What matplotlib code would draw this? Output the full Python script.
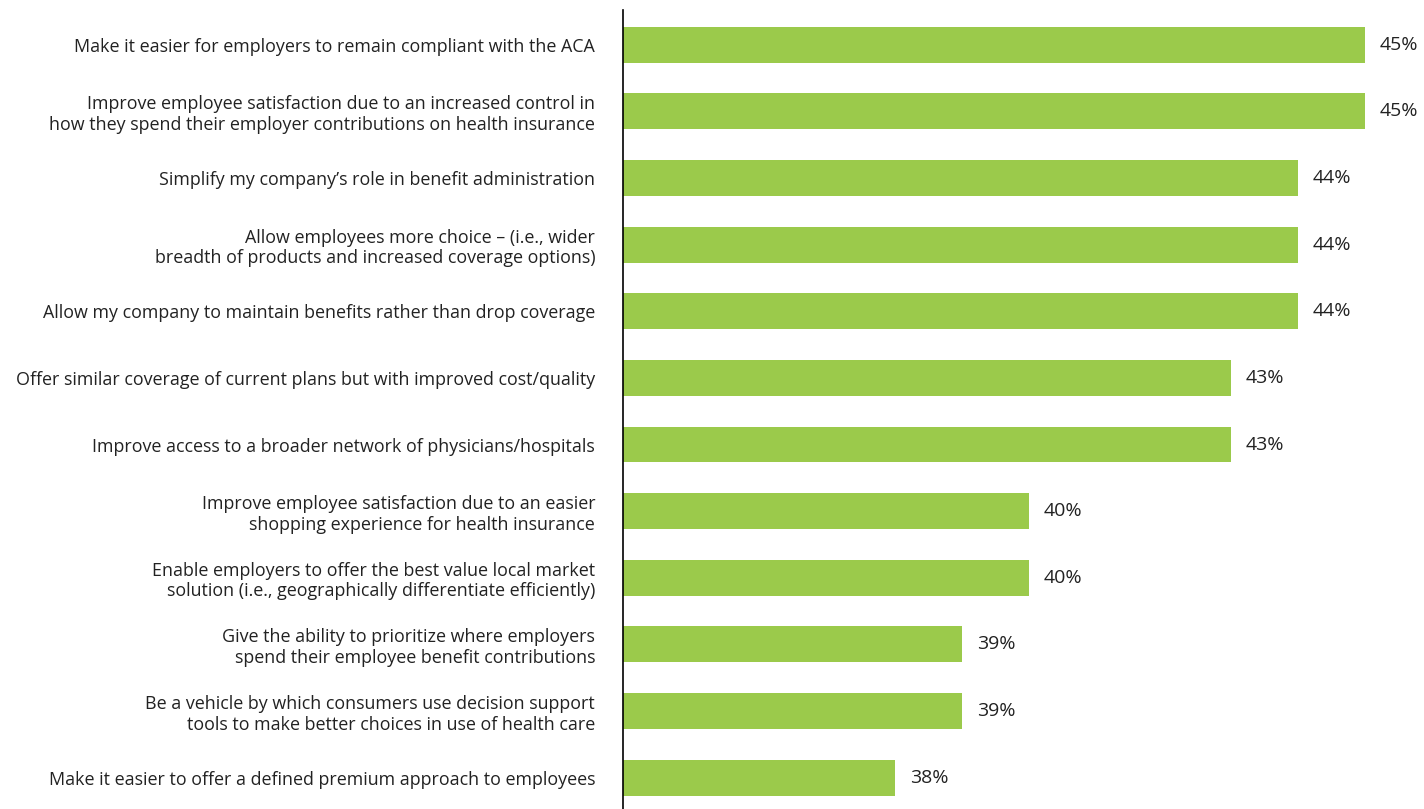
import matplotlib
matplotlib.use('Agg')
from matplotlib import pyplot as plt

# Survey answers, top to bottom
labels = [
    "Make it easier for employers to remain compliant with the ACA",
    "Improve employee satisfaction due to an increased control in\nhow they spend their employer contributions on health insurance",
    "Simplify my company\u2019s role in benefit administration",
    "Allow employees more choice \u2013 (i.e., wider\nbreadth of products and increased coverage options)",
    "Allow my company to maintain benefits rather than drop coverage",
    "Offer similar coverage of current plans but with improved cost/quality",
    "Improve access to a broader network of physicians/hospitals",
    "Improve employee satisfaction due to an easier\nshopping experience for health insurance",
    "Enable employers to offer the best value local market\nsolution (i.e., geographically differentiate efficiently)",
    "Give the ability to prioritize where employers\nspend their employee benefit contributions",
    "Be a vehicle by which consumers use decision support\ntools to make better choices in use of health care",
    "Make it easier to offer a defined premium approach to employees",
]
values = [45, 45, 44, 44, 44, 43, 43, 40, 40, 39, 39, 38]

plt.rcParams['font.family'] = ['Open Sans', 'DejaVu Sans']

fig = plt.figure(figsize=(14.24, 8.09), dpi=100)
ax = fig.add_axes([0.4375, 0.0, 0.5625, 0.988])

pos = list(range(len(values)))
ax.barh(pos, values, height=0.54, color='#9BCA4B', left=0)
ax.set_xlim(33.95, 45.88)
ax.set_ylim(len(values) - 0.53, -0.525)

for p, v in zip(pos, values):
    ax.text(v + 0.22, p, f"{v}%", va='center', ha='left',
            fontsize=14, color='#222222')

ax.set_yticks(pos)
ax.set_yticklabels(labels, fontsize=12.9, color='#222222', linespacing=1.18)
ax.tick_params(axis='y', length=0, pad=20)
ax.set_xticks([])

for s in ['top', 'right', 'bottom']:
    ax.spines[s].set_visible(False)
ax.spines['left'].set_linewidth(1.2)
ax.spines['left'].set_color('black')

plt.savefig('out.png', dpi=100)
